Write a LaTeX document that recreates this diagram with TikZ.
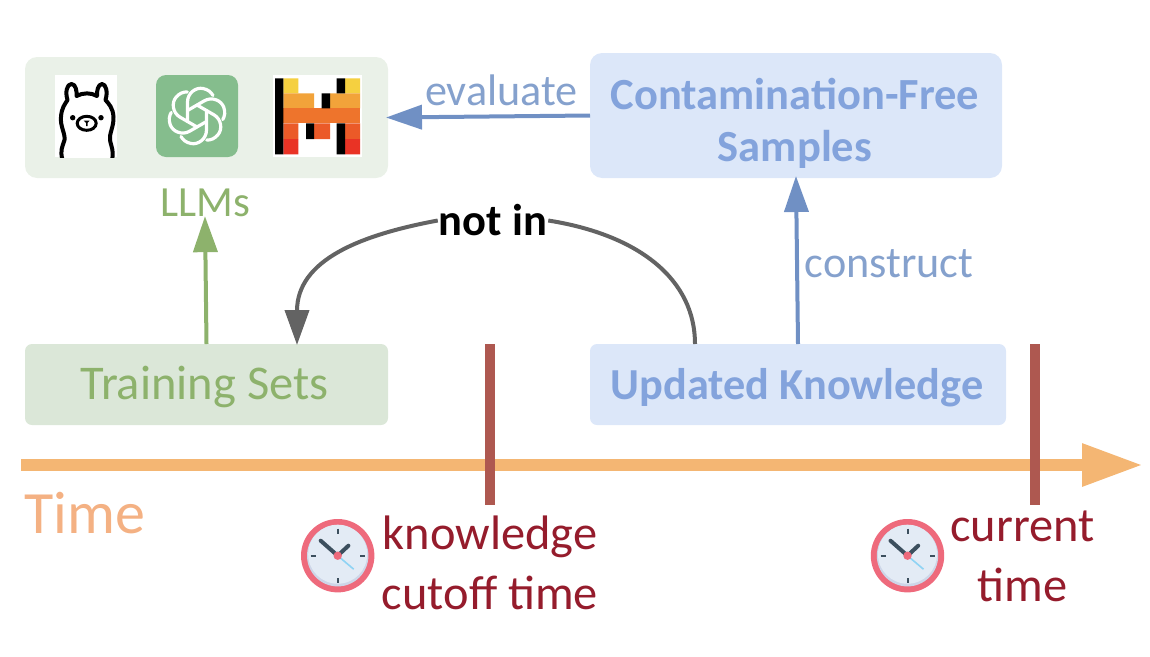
\documentclass[tikz,border=0pt]{standalone}
\usepackage{fontspec}
\setmainfont{Carlito}
\usetikzlibrary{arrows.meta,calc}
\definecolor{llmbg}{HTML}{EAF1E8}
\definecolor{trainbg}{HTML}{DBE7D8}
\definecolor{bluebg}{HTML}{DCE7F9}
\definecolor{bluetxt}{HTML}{83A3DC}
\definecolor{bluearr}{HTML}{7090C4}
\definecolor{greentxt}{HTML}{8DB26C}
\definecolor{greygr}{HTML}{636363}
\definecolor{timeor}{HTML}{F4B673}
\definecolor{timetxt}{HTML}{F4B183}
\definecolor{barred}{HTML}{AE5850}
\definecolor{darkred}{HTML}{951C2C}
\definecolor{gptgreen}{HTML}{85BD8D}
\definecolor{clockred}{HTML}{EE6A7C}
\definecolor{clockface}{HTML}{E3EBF5}
\definecolor{clockshade}{HTML}{CDD6E8}
\definecolor{clockdark}{HTML}{3C4F5E}
\definecolor{clockblue}{HTML}{8FD3F4}
\definecolor{mA}{HTML}{F5D040}
\definecolor{mB}{HTML}{F2A33A}
\definecolor{mC}{HTML}{EE742C}
\definecolor{mD}{HTML}{EB5A28}
\definecolor{mE}{HTML}{E93325}
\tikzset{
  x=1pt,y=-1pt,
  panel/.style={rounded corners=12pt,minimum width=#1,inner sep=0pt,outer sep=0pt},
  flowarrow/.style={line width=4pt,shorten >=-2pt,-{Triangle[length=36pt,width=24pt]}},
  boldblue/.style={text=bluetxt,font=\fontsize{44.5}{52}\selectfont\bfseries,align=center},
  redlabel/.style={text=darkred,font=\fontsize{48.4}{60}\selectfont,align=center},
  cutbar/.style={barred,line width=10pt},
  clock/.pic={
    \fill[clockred] (0,0) circle[radius=36.7];
    \fill[clockshade] (0,0) circle[radius=30.7];
    \fill[clockface] (0,-1.5) circle[radius=29.5];
    \foreach \a in {0,90,180,270}{
      \draw[clockdark,line width=2pt,rotate=\a] (0,-27) -- (0,-22);
    }
    \draw[clockblue,line width=1.6pt] (0,0) -- (16,13.5);
    \draw[clockdark,line width=4pt,line cap=round] (0,0) -- (-17,-15);
    \draw[clockdark,line width=4pt,line cap=round] (0,0) -- (10.7,-10);
    \fill[clockred] (0,0) circle[radius=4.2];
  }
}
\begin{document}
\begin{tikzpicture}
\useasboundingbox (0,0) rectangle (1150,656);
% panels
\node[panel=363pt,fill=llmbg,minimum height=121pt] (llm) at (206.5,117.5) {};
\node[panel=412pt,fill=bluebg,minimum height=125pt] (free) at (796,115.5) {};
\node[panel=363pt,fill=trainbg,minimum height=81pt,rounded corners=7pt] (train) at (206.5,384.5) {};
\node[panel=416pt,fill=bluebg,minimum height=81pt,rounded corners=7pt] (upd) at (798,384.5) {};
% box texts
\node[boldblue] at (795,123) {Contamination-Free\\Samples};
\node[text=greentxt,font=\fontsize{48.5}{56}\selectfont] at (204.5,386.5) {Training Sets};
\node[text=bluetxt,font=\fontsize{44.3}{52}\selectfont\bfseries] at (797,387.5) {Updated Knowledge};
\node[inner sep=1pt,text=greentxt,font=\fontsize{43}{48}\selectfont] (llms) at (205,203) {LLMs};
\node[text=bluearr!85!white,font=\fontsize{44.2}{50}\selectfont] at (501.5,90) {evaluate};
\node[text=bluearr!85!white,font=\fontsize{44.2}{50}\selectfont] at (889,264) {construct};
\node[inner sep=1pt,font=\fontsize{44.5}{50}\selectfont\bfseries] (notin) at (493,220.5) {not in};
% connectors
\draw[flowarrow,bluearr] (free.west) -- (llm.east);
\draw[flowarrow,bluearr] (upd.north) -- (free.south);
\draw[flowarrow,greentxt] (train.north) -- (llms.south);
\coordinate (updl) at (695,344);
\coordinate (trnr) at (297,344);
\draw[greygr,line width=4pt] (updl) .. controls (695,280) and (640,235) .. (notin.east);
\draw[greygr,line width=4pt,shorten >=-1pt,-{Triangle[length=35pt,width=24pt]}] (notin.west) .. controls (360,235) and (297,260) .. (trnr);
% time axis
\coordinate (tstart) at (21,465);
\coordinate (tend) at (1143,465);
\draw[timeor,line width=12pt,-{Triangle[length=61pt,width=40pt]}] (tstart) -- (tend);
\node[text=timetxt,font=\fontsize{60}{66}\selectfont] at (85,513) {Time};
\coordinate (c1t) at (489.5,344); \coordinate (c1b) at (489.5,505);
\coordinate (c2t) at (1035,344); \coordinate (c2b) at (1035,505);
\draw[cutbar] (c1t) -- (c1b);
\draw[cutbar] (c2t) -- (c2b);
\node[redlabel] at (490,563) {knowledge\\cutoff time};
\node[redlabel] at (1022.5,556) {current\\time};
\pic at (337.7,555.7) {clock};
\pic at (907.5,555.7) {clock};
% llama logo
\fill[white] (55,75) rectangle (117,157);
\begin{scope}
\clip (55,75) rectangle (117,157);
\filldraw[fill=white,draw=black,line width=4pt,line join=round]
  (62.5,160) .. controls (60,150) and (62,148) .. (64.5,140)
  .. controls (65.5,134) and (60,126) .. (61,117)
  .. controls (61.5,108) and (65,104) .. (67.5,100)
  .. controls (65,92) and (67,84) .. (71.5,84)
  .. controls (76,84) and (77,92) .. (76.5,96)
  .. controls (83,92.5) and (91,92.5) .. (97,96)
  .. controls (96.5,92) and (98,84) .. (102,84)
  .. controls (106,84) and (108,92) .. (105.5,100)
  .. controls (109,104) and (113,108) .. (113.5,117)
  .. controls (114,126) and (109,134) .. (110,140)
  .. controls (111.5,148) and (114,150) .. (112,160);
\fill (72.7,117.7) circle[radius=2.7];
\fill (101,117.7) circle[radius=2.7];
\draw[line width=3pt] (86.7,123.3) ellipse[x radius=9.5,y radius=7];
\fill (83.7,120.5) -- (89.7,120.5) -- (87.5,123) -- (87.5,126) -- (86,126) -- (86,123) -- cycle;
\end{scope}
% chatgpt logo
\node[fill=gptgreen,rounded corners=10pt,minimum width=82pt,minimum height=82pt,inner sep=0pt] (gpt) at (197,116) {};
\begin{scope}[shift={(197,116)}]
\foreach \a in {0,60,...,300}{
  \draw[white,line width=3.2pt,rotate=\a,line join=round,line cap=round]
    (-9.5,5.5) -- (-9.5,-14)
    .. controls (-9.5,-23) and (-1,-29) .. (6,-27.5)
    .. controls (11,-26.5) and (14,-24) .. (16,-20.5);
}
\end{scope}
% mistral logo
\fill[white] (273,75) rectangle (362,157);
\fill[mA] (283.3,78.3) rectangle (298.3,93.3) (345,78.3) rectangle (360,93.3);
\fill[mB] (283.3,93.3) rectangle (314,108.3) (330,93.3) rectangle (360,108.3);
\fill[mC] (283.3,108.3) rectangle (360,123.3);
\fill[mD] (283.3,123.3) rectangle (298.3,139) (314,123.3) rectangle (330,139) (345,123.3) rectangle (360,139);
\fill[mE] (283.3,139) rectangle (298.3,154.3) (345,139) rectangle (360,154.3);
\fill[black] (275,78.3) rectangle (283.3,154.3)
  (336.7,78.3) rectangle (345,93.3)
  (321.7,93.3) rectangle (330,108.3)
  (306,123.3) rectangle (314,139)
  (336.7,123.3) rectangle (345,154.3);
\end{tikzpicture}
\end{document}
